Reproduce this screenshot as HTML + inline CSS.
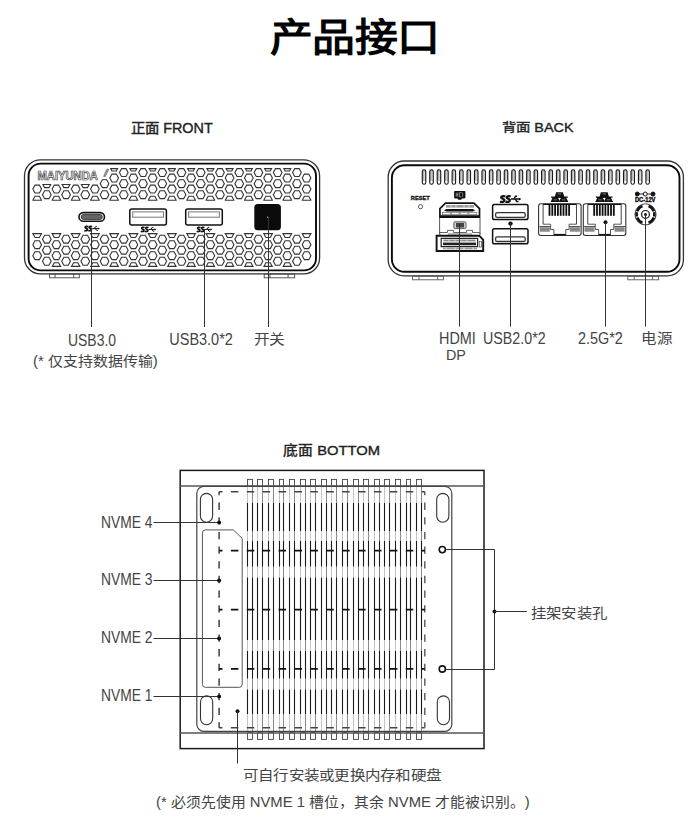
<!DOCTYPE html>
<html lang="zh-CN"><head><meta charset="utf-8"><style>
html,body{margin:0;padding:0;background:#fff;width:697px;height:820px;overflow:hidden;position:relative}
.t{text-spacing-trim:space-all;position:absolute;white-space:nowrap;font-family:"Liberation Sans",sans-serif;line-height:1;transform-origin:0 0}
.title{font-weight:400;-webkit-text-stroke:1.3px #000;color:#000}
.head{font-weight:400;-webkit-text-stroke:0.4px #222;color:#222}
.lab{color:#444}
</style></head><body>
<svg width="697" height="820" viewBox="0 0 697 820" style="position:absolute;left:0;top:0">
<rect x="24.50" y="159.80" width="295.10" height="114.10" rx="16" ry="16" fill="none" stroke="#333" stroke-width="1.3" />
<rect x="28.60" y="163.60" width="287.40" height="106.80" rx="12" ry="12" fill="none" stroke="#0a0a0a" stroke-width="1.9" />
<rect x="49.6" y="274.0" width="29.70" height="3.8" fill="none" stroke="#444" stroke-width="0.9"/>
<line x1="55.10" y1="274.00" x2="55.10" y2="277.80" stroke="#444" stroke-width="0.9" />
<line x1="73.70" y1="274.00" x2="73.70" y2="277.80" stroke="#444" stroke-width="0.9" />
<rect x="264.2" y="274.0" width="30.50" height="3.8" fill="none" stroke="#444" stroke-width="0.9"/>
<line x1="270.00" y1="274.00" x2="270.00" y2="277.80" stroke="#444" stroke-width="0.9" />
<line x1="288.10" y1="274.00" x2="288.10" y2="277.80" stroke="#444" stroke-width="0.9" />
<path d="M32.85,189.10 L35.00,185.15 L39.40,185.15 L41.55,189.10 L39.40,193.05 L35.00,193.05Z M32.85,200.15 L35.00,196.20 L39.40,196.20 L41.55,200.15 L41.52,200.20 L32.88,200.20Z M50.71,184.50 L49.02,187.60 L44.62,187.60 L42.93,184.50Z M42.47,194.70 L44.62,190.75 L49.02,190.75 L51.17,194.70 L49.02,198.65 L44.62,198.65Z M52.09,189.10 L54.24,185.15 L58.64,185.15 L60.79,189.10 L58.64,193.05 L54.24,193.05Z M52.09,200.15 L54.24,196.20 L58.64,196.20 L60.79,200.15 L60.76,200.20 L52.12,200.20Z M69.95,184.50 L68.26,187.60 L63.86,187.60 L62.17,184.50Z M61.71,194.70 L63.86,190.75 L68.26,190.75 L70.41,194.70 L68.26,198.65 L63.86,198.65Z M71.33,189.10 L73.48,185.15 L77.88,185.15 L80.03,189.10 L77.88,193.05 L73.48,193.05Z M71.33,200.15 L73.48,196.20 L77.88,196.20 L80.03,200.15 L80.00,200.20 L71.36,200.20Z M89.19,184.50 L87.50,187.60 L83.10,187.60 L81.41,184.50Z M80.95,194.70 L83.10,190.75 L87.50,190.75 L89.65,194.70 L87.50,198.65 L83.10,198.65Z M90.57,189.10 L92.72,185.15 L97.12,185.15 L99.27,189.10 L97.12,193.05 L92.72,193.05Z M90.57,200.15 L92.72,196.20 L97.12,196.20 L99.27,200.15 L99.24,200.20 L90.60,200.20Z M100.19,183.65 L102.34,179.70 L106.74,179.70 L108.89,183.65 L106.74,187.60 L102.34,187.60Z M100.19,194.70 L102.34,190.75 L106.74,190.75 L108.89,194.70 L106.74,198.65 L102.34,198.65Z M117.64,168.60 L116.36,170.95 L111.96,170.95 L110.68,168.60Z M109.81,178.05 L111.96,174.10 L116.36,174.10 L118.51,178.05 L116.36,182.00 L111.96,182.00Z M109.81,189.10 L111.96,185.15 L116.36,185.15 L118.51,189.10 L116.36,193.05 L111.96,193.05Z M109.81,200.15 L111.96,196.20 L116.36,196.20 L118.51,200.15 L118.48,200.20 L109.84,200.20Z M119.43,172.60 L121.58,168.65 L125.98,168.65 L128.13,172.60 L125.98,176.55 L121.58,176.55Z M119.43,183.65 L121.58,179.70 L125.98,179.70 L128.13,183.65 L125.98,187.60 L121.58,187.60Z M119.43,194.70 L121.58,190.75 L125.98,190.75 L128.13,194.70 L125.98,198.65 L121.58,198.65Z M136.88,168.60 L135.60,170.95 L131.20,170.95 L129.92,168.60Z M129.05,178.05 L131.20,174.10 L135.60,174.10 L137.75,178.05 L135.60,182.00 L131.20,182.00Z M129.05,189.10 L131.20,185.15 L135.60,185.15 L137.75,189.10 L135.60,193.05 L131.20,193.05Z M129.05,200.15 L131.20,196.20 L135.60,196.20 L137.75,200.15 L137.72,200.20 L129.08,200.20Z M138.67,172.60 L140.82,168.65 L145.22,168.65 L147.37,172.60 L145.22,176.55 L140.82,176.55Z M138.67,183.65 L140.82,179.70 L145.22,179.70 L147.37,183.65 L145.22,187.60 L140.82,187.60Z M138.67,194.70 L140.82,190.75 L145.22,190.75 L147.37,194.70 L145.22,198.65 L140.82,198.65Z M156.12,168.60 L154.84,170.95 L150.44,170.95 L149.16,168.60Z M148.29,178.05 L150.44,174.10 L154.84,174.10 L156.99,178.05 L154.84,182.00 L150.44,182.00Z M148.29,189.10 L150.44,185.15 L154.84,185.15 L156.99,189.10 L154.84,193.05 L150.44,193.05Z M148.29,200.15 L150.44,196.20 L154.84,196.20 L156.99,200.15 L156.96,200.20 L148.32,200.20Z M157.91,172.60 L160.06,168.65 L164.46,168.65 L166.61,172.60 L164.46,176.55 L160.06,176.55Z M157.91,183.65 L160.06,179.70 L164.46,179.70 L166.61,183.65 L164.46,187.60 L160.06,187.60Z M157.91,194.70 L160.06,190.75 L164.46,190.75 L166.61,194.70 L164.46,198.65 L160.06,198.65Z M175.36,168.60 L174.08,170.95 L169.68,170.95 L168.40,168.60Z M167.53,178.05 L169.68,174.10 L174.08,174.10 L176.23,178.05 L174.08,182.00 L169.68,182.00Z M167.53,189.10 L169.68,185.15 L174.08,185.15 L176.23,189.10 L174.08,193.05 L169.68,193.05Z M167.53,200.15 L169.68,196.20 L174.08,196.20 L176.23,200.15 L176.20,200.20 L167.56,200.20Z M177.15,172.60 L179.30,168.65 L183.70,168.65 L185.85,172.60 L183.70,176.55 L179.30,176.55Z M177.15,183.65 L179.30,179.70 L183.70,179.70 L185.85,183.65 L183.70,187.60 L179.30,187.60Z M177.15,194.70 L179.30,190.75 L183.70,190.75 L185.85,194.70 L183.70,198.65 L179.30,198.65Z M194.60,168.60 L193.32,170.95 L188.92,170.95 L187.64,168.60Z M186.77,178.05 L188.92,174.10 L193.32,174.10 L195.47,178.05 L193.32,182.00 L188.92,182.00Z M186.77,189.10 L188.92,185.15 L193.32,185.15 L195.47,189.10 L193.32,193.05 L188.92,193.05Z M186.77,200.15 L188.92,196.20 L193.32,196.20 L195.47,200.15 L195.44,200.20 L186.80,200.20Z M196.39,172.60 L198.54,168.65 L202.94,168.65 L205.09,172.60 L202.94,176.55 L198.54,176.55Z M196.39,183.65 L198.54,179.70 L202.94,179.70 L205.09,183.65 L202.94,187.60 L198.54,187.60Z M196.39,194.70 L198.54,190.75 L202.94,190.75 L205.09,194.70 L202.94,198.65 L198.54,198.65Z M213.84,168.60 L212.56,170.95 L208.16,170.95 L206.88,168.60Z M206.01,178.05 L208.16,174.10 L212.56,174.10 L214.71,178.05 L212.56,182.00 L208.16,182.00Z M206.01,189.10 L208.16,185.15 L212.56,185.15 L214.71,189.10 L212.56,193.05 L208.16,193.05Z M206.01,200.15 L208.16,196.20 L212.56,196.20 L214.71,200.15 L214.68,200.20 L206.04,200.20Z M215.63,172.60 L217.78,168.65 L222.18,168.65 L224.33,172.60 L222.18,176.55 L217.78,176.55Z M215.63,183.65 L217.78,179.70 L222.18,179.70 L224.33,183.65 L222.18,187.60 L217.78,187.60Z M215.63,194.70 L217.78,190.75 L222.18,190.75 L224.33,194.70 L222.18,198.65 L217.78,198.65Z M233.08,168.60 L231.80,170.95 L227.40,170.95 L226.12,168.60Z M225.25,178.05 L227.40,174.10 L231.80,174.10 L233.95,178.05 L231.80,182.00 L227.40,182.00Z M225.25,189.10 L227.40,185.15 L231.80,185.15 L233.95,189.10 L231.80,193.05 L227.40,193.05Z M225.25,200.15 L227.40,196.20 L231.80,196.20 L233.95,200.15 L233.92,200.20 L225.28,200.20Z M234.87,172.60 L237.02,168.65 L241.42,168.65 L243.57,172.60 L241.42,176.55 L237.02,176.55Z M234.87,183.65 L237.02,179.70 L241.42,179.70 L243.57,183.65 L241.42,187.60 L237.02,187.60Z M234.87,194.70 L237.02,190.75 L241.42,190.75 L243.57,194.70 L241.42,198.65 L237.02,198.65Z M252.32,168.60 L251.04,170.95 L246.64,170.95 L245.36,168.60Z M244.49,178.05 L246.64,174.10 L251.04,174.10 L253.19,178.05 L251.04,182.00 L246.64,182.00Z M244.49,189.10 L246.64,185.15 L251.04,185.15 L253.19,189.10 L251.04,193.05 L246.64,193.05Z M244.49,200.15 L246.64,196.20 L251.04,196.20 L253.19,200.15 L253.16,200.20 L244.52,200.20Z M254.11,172.60 L256.26,168.65 L260.66,168.65 L262.81,172.60 L260.66,176.55 L256.26,176.55Z M254.11,183.65 L256.26,179.70 L260.66,179.70 L262.81,183.65 L260.66,187.60 L256.26,187.60Z M254.11,194.70 L256.26,190.75 L260.66,190.75 L262.81,194.70 L260.66,198.65 L256.26,198.65Z M271.56,168.60 L270.28,170.95 L265.88,170.95 L264.60,168.60Z M263.73,178.05 L265.88,174.10 L270.28,174.10 L272.43,178.05 L270.28,182.00 L265.88,182.00Z M263.73,189.10 L265.88,185.15 L270.28,185.15 L272.43,189.10 L270.28,193.05 L265.88,193.05Z M263.73,200.15 L265.88,196.20 L270.28,196.20 L272.43,200.15 L272.40,200.20 L263.76,200.20Z M273.35,172.60 L275.50,168.65 L279.90,168.65 L282.05,172.60 L279.90,176.55 L275.50,176.55Z M273.35,183.65 L275.50,179.70 L279.90,179.70 L282.05,183.65 L279.90,187.60 L275.50,187.60Z M273.35,194.70 L275.50,190.75 L279.90,190.75 L282.05,194.70 L279.90,198.65 L275.50,198.65Z M290.80,168.60 L289.52,170.95 L285.12,170.95 L283.84,168.60Z M282.97,178.05 L285.12,174.10 L289.52,174.10 L291.67,178.05 L289.52,182.00 L285.12,182.00Z M282.97,189.10 L285.12,185.15 L289.52,185.15 L291.67,189.10 L289.52,193.05 L285.12,193.05Z M282.97,200.15 L285.12,196.20 L289.52,196.20 L291.67,200.15 L291.64,200.20 L283.00,200.20Z M292.59,172.60 L294.74,168.65 L299.14,168.65 L301.29,172.60 L299.14,176.55 L294.74,176.55Z M292.59,183.65 L294.74,179.70 L299.14,179.70 L301.29,183.65 L299.14,187.60 L294.74,187.60Z M292.59,194.70 L294.74,190.75 L299.14,190.75 L301.29,194.70 L299.14,198.65 L294.74,198.65Z M302.21,178.05 L304.36,174.10 L308.76,174.10 L310.91,178.05 L308.76,182.00 L304.36,182.00Z M302.21,189.10 L304.36,185.15 L308.76,185.15 L310.91,189.10 L308.76,193.05 L304.36,193.05Z M302.21,200.15 L304.36,196.20 L308.76,196.20 L310.91,200.15 L310.88,200.20 L302.24,200.20Z" fill="none" stroke="#333" stroke-width="1.1"/>
<path d="M32.85,233.60 L32.85,233.60 L41.55,233.60 L41.55,233.60 L39.40,237.55 L35.00,237.55Z M32.85,244.65 L35.00,240.70 L39.40,240.70 L41.55,244.65 L39.40,248.60 L35.00,248.60Z M32.85,255.70 L35.00,251.75 L39.40,251.75 L41.55,255.70 L39.40,259.65 L35.00,259.65Z M42.47,239.15 L44.62,235.20 L49.02,235.20 L51.17,239.15 L49.02,243.10 L44.62,243.10Z M42.47,250.20 L44.62,246.25 L49.02,246.25 L51.17,250.20 L49.02,254.15 L44.62,254.15Z M42.47,261.25 L44.62,257.30 L49.02,257.30 L51.17,261.25 L49.02,265.20 L44.62,265.20Z M52.09,233.60 L52.09,233.60 L60.79,233.60 L60.79,233.60 L58.64,237.55 L54.24,237.55Z M52.09,244.65 L54.24,240.70 L58.64,240.70 L60.79,244.65 L58.64,248.60 L54.24,248.60Z M52.09,255.70 L54.24,251.75 L58.64,251.75 L60.79,255.70 L58.64,259.65 L54.24,259.65Z M52.28,266.40 L54.24,262.80 L58.64,262.80 L60.60,266.40Z M61.71,239.15 L63.86,235.20 L68.26,235.20 L70.41,239.15 L68.26,243.10 L63.86,243.10Z M61.71,250.20 L63.86,246.25 L68.26,246.25 L70.41,250.20 L68.26,254.15 L63.86,254.15Z M61.71,261.25 L63.86,257.30 L68.26,257.30 L70.41,261.25 L68.26,265.20 L63.86,265.20Z M71.33,233.60 L71.33,233.60 L80.03,233.60 L80.03,233.60 L77.88,237.55 L73.48,237.55Z M71.33,244.65 L73.48,240.70 L77.88,240.70 L80.03,244.65 L77.88,248.60 L73.48,248.60Z M71.33,255.70 L73.48,251.75 L77.88,251.75 L80.03,255.70 L77.88,259.65 L73.48,259.65Z M71.52,266.40 L73.48,262.80 L77.88,262.80 L79.84,266.40Z M80.95,239.15 L83.10,235.20 L87.50,235.20 L89.65,239.15 L87.50,243.10 L83.10,243.10Z M80.95,250.20 L83.10,246.25 L87.50,246.25 L89.65,250.20 L87.50,254.15 L83.10,254.15Z M80.95,261.25 L83.10,257.30 L87.50,257.30 L89.65,261.25 L87.50,265.20 L83.10,265.20Z M90.57,233.60 L90.57,233.60 L99.27,233.60 L99.27,233.60 L97.12,237.55 L92.72,237.55Z M90.57,244.65 L92.72,240.70 L97.12,240.70 L99.27,244.65 L97.12,248.60 L92.72,248.60Z M90.57,255.70 L92.72,251.75 L97.12,251.75 L99.27,255.70 L97.12,259.65 L92.72,259.65Z M90.76,266.40 L92.72,262.80 L97.12,262.80 L99.08,266.40Z M100.19,239.15 L102.34,235.20 L106.74,235.20 L108.89,239.15 L106.74,243.10 L102.34,243.10Z M100.19,250.20 L102.34,246.25 L106.74,246.25 L108.89,250.20 L106.74,254.15 L102.34,254.15Z M100.19,261.25 L102.34,257.30 L106.74,257.30 L108.89,261.25 L106.74,265.20 L102.34,265.20Z M109.81,233.60 L109.81,233.60 L118.51,233.60 L118.51,233.60 L116.36,237.55 L111.96,237.55Z M109.81,244.65 L111.96,240.70 L116.36,240.70 L118.51,244.65 L116.36,248.60 L111.96,248.60Z M109.81,255.70 L111.96,251.75 L116.36,251.75 L118.51,255.70 L116.36,259.65 L111.96,259.65Z M110.00,266.40 L111.96,262.80 L116.36,262.80 L118.32,266.40Z M119.43,239.15 L121.58,235.20 L125.98,235.20 L128.13,239.15 L125.98,243.10 L121.58,243.10Z M119.43,250.20 L121.58,246.25 L125.98,246.25 L128.13,250.20 L125.98,254.15 L121.58,254.15Z M119.43,261.25 L121.58,257.30 L125.98,257.30 L128.13,261.25 L125.98,265.20 L121.58,265.20Z M129.05,233.60 L129.05,233.60 L137.75,233.60 L137.75,233.60 L135.60,237.55 L131.20,237.55Z M129.05,244.65 L131.20,240.70 L135.60,240.70 L137.75,244.65 L135.60,248.60 L131.20,248.60Z M129.05,255.70 L131.20,251.75 L135.60,251.75 L137.75,255.70 L135.60,259.65 L131.20,259.65Z M129.24,266.40 L131.20,262.80 L135.60,262.80 L137.56,266.40Z M138.67,239.15 L140.82,235.20 L145.22,235.20 L147.37,239.15 L145.22,243.10 L140.82,243.10Z M138.67,250.20 L140.82,246.25 L145.22,246.25 L147.37,250.20 L145.22,254.15 L140.82,254.15Z M138.67,261.25 L140.82,257.30 L145.22,257.30 L147.37,261.25 L145.22,265.20 L140.82,265.20Z M148.29,233.60 L148.29,233.60 L156.99,233.60 L156.99,233.60 L154.84,237.55 L150.44,237.55Z M148.29,244.65 L150.44,240.70 L154.84,240.70 L156.99,244.65 L154.84,248.60 L150.44,248.60Z M148.29,255.70 L150.44,251.75 L154.84,251.75 L156.99,255.70 L154.84,259.65 L150.44,259.65Z M148.48,266.40 L150.44,262.80 L154.84,262.80 L156.80,266.40Z M157.91,239.15 L160.06,235.20 L164.46,235.20 L166.61,239.15 L164.46,243.10 L160.06,243.10Z M157.91,250.20 L160.06,246.25 L164.46,246.25 L166.61,250.20 L164.46,254.15 L160.06,254.15Z M157.91,261.25 L160.06,257.30 L164.46,257.30 L166.61,261.25 L164.46,265.20 L160.06,265.20Z M167.53,233.60 L167.53,233.60 L176.23,233.60 L176.23,233.60 L174.08,237.55 L169.68,237.55Z M167.53,244.65 L169.68,240.70 L174.08,240.70 L176.23,244.65 L174.08,248.60 L169.68,248.60Z M167.53,255.70 L169.68,251.75 L174.08,251.75 L176.23,255.70 L174.08,259.65 L169.68,259.65Z M167.72,266.40 L169.68,262.80 L174.08,262.80 L176.04,266.40Z M177.15,239.15 L179.30,235.20 L183.70,235.20 L185.85,239.15 L183.70,243.10 L179.30,243.10Z M177.15,250.20 L179.30,246.25 L183.70,246.25 L185.85,250.20 L183.70,254.15 L179.30,254.15Z M177.15,261.25 L179.30,257.30 L183.70,257.30 L185.85,261.25 L183.70,265.20 L179.30,265.20Z M186.77,233.60 L186.77,233.60 L195.47,233.60 L195.47,233.60 L193.32,237.55 L188.92,237.55Z M186.77,244.65 L188.92,240.70 L193.32,240.70 L195.47,244.65 L193.32,248.60 L188.92,248.60Z M186.77,255.70 L188.92,251.75 L193.32,251.75 L195.47,255.70 L193.32,259.65 L188.92,259.65Z M186.96,266.40 L188.92,262.80 L193.32,262.80 L195.28,266.40Z M196.39,239.15 L198.54,235.20 L202.94,235.20 L205.09,239.15 L202.94,243.10 L198.54,243.10Z M196.39,250.20 L198.54,246.25 L202.94,246.25 L205.09,250.20 L202.94,254.15 L198.54,254.15Z M196.39,261.25 L198.54,257.30 L202.94,257.30 L205.09,261.25 L202.94,265.20 L198.54,265.20Z M206.01,233.60 L206.01,233.60 L214.71,233.60 L214.71,233.60 L212.56,237.55 L208.16,237.55Z M206.01,244.65 L208.16,240.70 L212.56,240.70 L214.71,244.65 L212.56,248.60 L208.16,248.60Z M206.01,255.70 L208.16,251.75 L212.56,251.75 L214.71,255.70 L212.56,259.65 L208.16,259.65Z M206.20,266.40 L208.16,262.80 L212.56,262.80 L214.52,266.40Z M215.63,239.15 L217.78,235.20 L222.18,235.20 L224.33,239.15 L222.18,243.10 L217.78,243.10Z M215.63,250.20 L217.78,246.25 L222.18,246.25 L224.33,250.20 L222.18,254.15 L217.78,254.15Z M215.63,261.25 L217.78,257.30 L222.18,257.30 L224.33,261.25 L222.18,265.20 L217.78,265.20Z M225.25,233.60 L225.25,233.60 L233.95,233.60 L233.95,233.60 L231.80,237.55 L227.40,237.55Z M225.25,244.65 L227.40,240.70 L231.80,240.70 L233.95,244.65 L231.80,248.60 L227.40,248.60Z M225.25,255.70 L227.40,251.75 L231.80,251.75 L233.95,255.70 L231.80,259.65 L227.40,259.65Z M225.44,266.40 L227.40,262.80 L231.80,262.80 L233.76,266.40Z M234.87,239.15 L237.02,235.20 L241.42,235.20 L243.57,239.15 L241.42,243.10 L237.02,243.10Z M234.87,250.20 L237.02,246.25 L241.42,246.25 L243.57,250.20 L241.42,254.15 L237.02,254.15Z M234.87,261.25 L237.02,257.30 L241.42,257.30 L243.57,261.25 L241.42,265.20 L237.02,265.20Z M244.49,233.60 L244.49,233.60 L253.19,233.60 L253.19,233.60 L251.04,237.55 L246.64,237.55Z M244.49,244.65 L246.64,240.70 L251.04,240.70 L253.19,244.65 L251.04,248.60 L246.64,248.60Z M244.49,255.70 L246.64,251.75 L251.04,251.75 L253.19,255.70 L251.04,259.65 L246.64,259.65Z M244.68,266.40 L246.64,262.80 L251.04,262.80 L253.00,266.40Z M254.11,239.15 L256.26,235.20 L260.66,235.20 L262.81,239.15 L260.66,243.10 L256.26,243.10Z M254.11,250.20 L256.26,246.25 L260.66,246.25 L262.81,250.20 L260.66,254.15 L256.26,254.15Z M254.11,261.25 L256.26,257.30 L260.66,257.30 L262.81,261.25 L260.66,265.20 L256.26,265.20Z M263.73,233.60 L263.73,233.60 L272.43,233.60 L272.43,233.60 L270.28,237.55 L265.88,237.55Z M263.73,244.65 L265.88,240.70 L270.28,240.70 L272.43,244.65 L270.28,248.60 L265.88,248.60Z M263.73,255.70 L265.88,251.75 L270.28,251.75 L272.43,255.70 L270.28,259.65 L265.88,259.65Z M263.92,266.40 L265.88,262.80 L270.28,262.80 L272.24,266.40Z M273.35,239.15 L275.50,235.20 L279.90,235.20 L282.05,239.15 L279.90,243.10 L275.50,243.10Z M273.35,250.20 L275.50,246.25 L279.90,246.25 L282.05,250.20 L279.90,254.15 L275.50,254.15Z M273.35,261.25 L275.50,257.30 L279.90,257.30 L282.05,261.25 L279.90,265.20 L275.50,265.20Z M282.97,233.60 L282.97,233.60 L291.67,233.60 L291.67,233.60 L289.52,237.55 L285.12,237.55Z M282.97,244.65 L285.12,240.70 L289.52,240.70 L291.67,244.65 L289.52,248.60 L285.12,248.60Z M282.97,255.70 L285.12,251.75 L289.52,251.75 L291.67,255.70 L289.52,259.65 L285.12,259.65Z M283.16,266.40 L285.12,262.80 L289.52,262.80 L291.48,266.40Z M292.59,239.15 L294.74,235.20 L299.14,235.20 L301.29,239.15 L299.14,243.10 L294.74,243.10Z M292.59,250.20 L294.74,246.25 L299.14,246.25 L301.29,250.20 L299.14,254.15 L294.74,254.15Z M292.59,261.25 L294.74,257.30 L299.14,257.30 L301.29,261.25 L299.14,265.20 L294.74,265.20Z M302.21,233.60 L302.21,233.60 L310.91,233.60 L310.91,233.60 L308.76,237.55 L304.36,237.55Z M302.21,244.65 L304.36,240.70 L308.76,240.70 L310.91,244.65 L308.76,248.60 L304.36,248.60Z M302.21,255.70 L304.36,251.75 L308.76,251.75 L310.91,255.70 L308.76,259.65 L304.36,259.65Z" fill="none" stroke="#333" stroke-width="1.1"/>
<text x="37.5" y="179.7" textLength="60.4" lengthAdjust="spacingAndGlyphs" font-family="Liberation Sans" font-weight="bold" font-size="12.4" fill="#fff" stroke="#333" stroke-width="0.7">MAIYUNDA</text>
<path d="M103.6,176.4 L105.4,176.4 L108.7,169.2 L106.9,169.2Z" fill="#aaa" stroke="#444" stroke-width="0.6"/>
<rect x="79.00" y="212.60" width="25.50" height="8.70" rx="4.35" ry="4.35" fill="none" stroke="#111" stroke-width="1.6" />
<rect x="81.20" y="214.60" width="21.20" height="4.80" rx="2.4" ry="2.4" fill="#666" stroke="#333" stroke-width="0.9" />
<g transform="translate(83.80,225.80) scale(1.000)"><path d="M0.5,4.6 C1.5,5.2 4,5 3.6,3.4 C3.3,2.5 1.2,2.6 1.3,1.6 C1.4,0.4 3.6,0.5 4.2,1 M4.5,4.6 C5.5,5.2 8,5 7.6,3.4 C7.3,2.5 5.2,2.6 5.3,1.6 C5.4,0.4 7.6,0.5 8.2,1" fill="none" stroke="#111" stroke-width="1.7"/><path d="M8.5,2.8 L15.5,2.8 M10.5,2.8 L11.8,0.8 L13,0.8 M11.5,2.8 L12.8,4.6 L14,4.6" fill="none" stroke="#111" stroke-width="1"/><path d="M15.8,2.8 L14.3,1.8 L14.3,3.8Z" fill="#111"/></g>
<rect x="129.80" y="209.10" width="36.60" height="15.80" rx="2.0" ry="2.0" fill="none" stroke="#111" stroke-width="1.5" />
<rect x="132.70" y="211.9" width="30.8" height="5.3" fill="none" stroke="#777" stroke-width="1"/>
<g transform="translate(140.30,226.60) scale(1.000)"><path d="M0.5,4.6 C1.5,5.2 4,5 3.6,3.4 C3.3,2.5 1.2,2.6 1.3,1.6 C1.4,0.4 3.6,0.5 4.2,1 M4.5,4.6 C5.5,5.2 8,5 7.6,3.4 C7.3,2.5 5.2,2.6 5.3,1.6 C5.4,0.4 7.6,0.5 8.2,1" fill="none" stroke="#111" stroke-width="1.7"/><path d="M8.5,2.8 L15.5,2.8 M10.5,2.8 L11.8,0.8 L13,0.8 M11.5,2.8 L12.8,4.6 L14,4.6" fill="none" stroke="#111" stroke-width="1"/><path d="M15.8,2.8 L14.3,1.8 L14.3,3.8Z" fill="#111"/></g>
<rect x="185.70" y="209.10" width="36.60" height="15.80" rx="2.0" ry="2.0" fill="none" stroke="#111" stroke-width="1.5" />
<rect x="188.60" y="211.9" width="30.8" height="5.3" fill="none" stroke="#777" stroke-width="1"/>
<g transform="translate(196.20,226.60) scale(1.000)"><path d="M0.5,4.6 C1.5,5.2 4,5 3.6,3.4 C3.3,2.5 1.2,2.6 1.3,1.6 C1.4,0.4 3.6,0.5 4.2,1 M4.5,4.6 C5.5,5.2 8,5 7.6,3.4 C7.3,2.5 5.2,2.6 5.3,1.6 C5.4,0.4 7.6,0.5 8.2,1" fill="none" stroke="#111" stroke-width="1.7"/><path d="M8.5,2.8 L15.5,2.8 M10.5,2.8 L11.8,0.8 L13,0.8 M11.5,2.8 L12.8,4.6 L14,4.6" fill="none" stroke="#111" stroke-width="1"/><path d="M15.8,2.8 L14.3,1.8 L14.3,3.8Z" fill="#111"/></g>
<rect x="254.30" y="204.00" width="26.60" height="26.30" rx="3.6" ry="3.6" fill="#0a0a0a" stroke="none" stroke-width="0" />
<circle cx="267.60" cy="217.20" r="0.6" fill="#ddd" stroke="none" stroke-width="1"/>
<line x1="91.50" y1="228.50" x2="91.50" y2="327.00" stroke="#333" stroke-width="1" />
<line x1="204.50" y1="229.00" x2="204.50" y2="327.00" stroke="#333" stroke-width="1" />
<line x1="268.50" y1="217.20" x2="268.50" y2="327.00" stroke="#333" stroke-width="1" />
<rect x="388.20" y="161.00" width="295.20" height="114.80" rx="16" ry="16" fill="none" stroke="#333" stroke-width="1.3" />
<rect x="391.90" y="165.20" width="287.60" height="106.60" rx="12.5" ry="12.5" fill="none" stroke="#0a0a0a" stroke-width="1.9" />
<rect x="412.6" y="276.2" width="30.799999999999955" height="3.6" fill="none" stroke="#555" stroke-width="0.9"/>
<line x1="419.00" y1="276.20" x2="419.00" y2="279.80" stroke="#555" stroke-width="0.9" />
<line x1="437.70" y1="276.20" x2="437.70" y2="279.80" stroke="#555" stroke-width="0.9" />
<rect x="627.8" y="276.2" width="30.800000000000068" height="3.6" fill="none" stroke="#555" stroke-width="0.9"/>
<line x1="634.20" y1="276.20" x2="634.20" y2="279.80" stroke="#555" stroke-width="0.9" />
<line x1="652.60" y1="276.20" x2="652.60" y2="279.80" stroke="#555" stroke-width="0.9" />
<rect x="422.30" y="169.80" width="3.50" height="14.40" rx="1.75" ry="1.75" fill="#b5b5b5" stroke="#1a1a1a" stroke-width="1.1" />
<rect x="424.15" y="171.5" width="0.8" height="8.5" fill="#e0e0e0"/>
<rect x="423.05" y="180.6" width="2.0" height="2.9" rx="1.0" fill="#fff"/>
<rect x="429.75" y="169.80" width="3.50" height="14.40" rx="1.75" ry="1.75" fill="#b5b5b5" stroke="#1a1a1a" stroke-width="1.1" />
<rect x="431.60" y="171.5" width="0.8" height="8.5" fill="#e0e0e0"/>
<rect x="430.50" y="180.6" width="2.0" height="2.9" rx="1.0" fill="#fff"/>
<rect x="437.21" y="169.80" width="3.50" height="14.40" rx="1.75" ry="1.75" fill="#b5b5b5" stroke="#1a1a1a" stroke-width="1.1" />
<rect x="439.06" y="171.5" width="0.8" height="8.5" fill="#e0e0e0"/>
<rect x="437.96" y="180.6" width="2.0" height="2.9" rx="1.0" fill="#fff"/>
<rect x="444.66" y="169.80" width="3.50" height="14.40" rx="1.75" ry="1.75" fill="#b5b5b5" stroke="#1a1a1a" stroke-width="1.1" />
<rect x="446.51" y="171.5" width="0.8" height="8.5" fill="#e0e0e0"/>
<rect x="445.41" y="180.6" width="2.0" height="2.9" rx="1.0" fill="#fff"/>
<rect x="452.11" y="169.80" width="3.50" height="14.40" rx="1.75" ry="1.75" fill="#b5b5b5" stroke="#1a1a1a" stroke-width="1.1" />
<rect x="453.96" y="171.5" width="0.8" height="8.5" fill="#e0e0e0"/>
<rect x="452.86" y="180.6" width="2.0" height="2.9" rx="1.0" fill="#fff"/>
<rect x="459.56" y="169.80" width="3.50" height="14.40" rx="1.75" ry="1.75" fill="#b5b5b5" stroke="#1a1a1a" stroke-width="1.1" />
<rect x="461.42" y="171.5" width="0.8" height="8.5" fill="#e0e0e0"/>
<rect x="460.31" y="180.6" width="2.0" height="2.9" rx="1.0" fill="#fff"/>
<rect x="467.02" y="169.80" width="3.50" height="14.40" rx="1.75" ry="1.75" fill="#b5b5b5" stroke="#1a1a1a" stroke-width="1.1" />
<rect x="468.87" y="171.5" width="0.8" height="8.5" fill="#e0e0e0"/>
<rect x="467.77" y="180.6" width="2.0" height="2.9" rx="1.0" fill="#fff"/>
<rect x="474.47" y="169.80" width="3.50" height="14.40" rx="1.75" ry="1.75" fill="#b5b5b5" stroke="#1a1a1a" stroke-width="1.1" />
<rect x="476.32" y="171.5" width="0.8" height="8.5" fill="#e0e0e0"/>
<rect x="475.22" y="180.6" width="2.0" height="2.9" rx="1.0" fill="#fff"/>
<rect x="481.92" y="169.80" width="3.50" height="14.40" rx="1.75" ry="1.75" fill="#b5b5b5" stroke="#1a1a1a" stroke-width="1.1" />
<rect x="483.77" y="171.5" width="0.8" height="8.5" fill="#e0e0e0"/>
<rect x="482.67" y="180.6" width="2.0" height="2.9" rx="1.0" fill="#fff"/>
<rect x="489.38" y="169.80" width="3.50" height="14.40" rx="1.75" ry="1.75" fill="#b5b5b5" stroke="#1a1a1a" stroke-width="1.1" />
<rect x="491.23" y="171.5" width="0.8" height="8.5" fill="#e0e0e0"/>
<rect x="490.13" y="180.6" width="2.0" height="2.9" rx="1.0" fill="#fff"/>
<rect x="496.83" y="169.80" width="3.50" height="14.40" rx="1.75" ry="1.75" fill="#b5b5b5" stroke="#1a1a1a" stroke-width="1.1" />
<rect x="498.68" y="171.5" width="0.8" height="8.5" fill="#e0e0e0"/>
<rect x="497.58" y="180.6" width="2.0" height="2.9" rx="1.0" fill="#fff"/>
<rect x="504.28" y="169.80" width="3.50" height="14.40" rx="1.75" ry="1.75" fill="#b5b5b5" stroke="#1a1a1a" stroke-width="1.1" />
<rect x="506.13" y="171.5" width="0.8" height="8.5" fill="#e0e0e0"/>
<rect x="505.03" y="180.6" width="2.0" height="2.9" rx="1.0" fill="#fff"/>
<rect x="511.74" y="169.80" width="3.50" height="14.40" rx="1.75" ry="1.75" fill="#b5b5b5" stroke="#1a1a1a" stroke-width="1.1" />
<rect x="513.59" y="171.5" width="0.8" height="8.5" fill="#e0e0e0"/>
<rect x="512.49" y="180.6" width="2.0" height="2.9" rx="1.0" fill="#fff"/>
<rect x="519.19" y="169.80" width="3.50" height="14.40" rx="1.75" ry="1.75" fill="#b5b5b5" stroke="#1a1a1a" stroke-width="1.1" />
<rect x="521.04" y="171.5" width="0.8" height="8.5" fill="#e0e0e0"/>
<rect x="519.94" y="180.6" width="2.0" height="2.9" rx="1.0" fill="#fff"/>
<rect x="526.64" y="169.80" width="3.50" height="14.40" rx="1.75" ry="1.75" fill="#b5b5b5" stroke="#1a1a1a" stroke-width="1.1" />
<rect x="528.49" y="171.5" width="0.8" height="8.5" fill="#e0e0e0"/>
<rect x="527.39" y="180.6" width="2.0" height="2.9" rx="1.0" fill="#fff"/>
<rect x="534.10" y="169.80" width="3.50" height="14.40" rx="1.75" ry="1.75" fill="#b5b5b5" stroke="#1a1a1a" stroke-width="1.1" />
<rect x="535.95" y="171.5" width="0.8" height="8.5" fill="#e0e0e0"/>
<rect x="534.85" y="180.6" width="2.0" height="2.9" rx="1.0" fill="#fff"/>
<rect x="541.55" y="169.80" width="3.50" height="14.40" rx="1.75" ry="1.75" fill="#b5b5b5" stroke="#1a1a1a" stroke-width="1.1" />
<rect x="543.40" y="171.5" width="0.8" height="8.5" fill="#e0e0e0"/>
<rect x="542.30" y="180.6" width="2.0" height="2.9" rx="1.0" fill="#fff"/>
<rect x="549.00" y="169.80" width="3.50" height="14.40" rx="1.75" ry="1.75" fill="#b5b5b5" stroke="#1a1a1a" stroke-width="1.1" />
<rect x="550.85" y="171.5" width="0.8" height="8.5" fill="#e0e0e0"/>
<rect x="549.75" y="180.6" width="2.0" height="2.9" rx="1.0" fill="#fff"/>
<rect x="556.45" y="169.80" width="3.50" height="14.40" rx="1.75" ry="1.75" fill="#b5b5b5" stroke="#1a1a1a" stroke-width="1.1" />
<rect x="558.30" y="171.5" width="0.8" height="8.5" fill="#e0e0e0"/>
<rect x="557.20" y="180.6" width="2.0" height="2.9" rx="1.0" fill="#fff"/>
<rect x="563.91" y="169.80" width="3.50" height="14.40" rx="1.75" ry="1.75" fill="#b5b5b5" stroke="#1a1a1a" stroke-width="1.1" />
<rect x="565.76" y="171.5" width="0.8" height="8.5" fill="#e0e0e0"/>
<rect x="564.66" y="180.6" width="2.0" height="2.9" rx="1.0" fill="#fff"/>
<rect x="571.36" y="169.80" width="3.50" height="14.40" rx="1.75" ry="1.75" fill="#b5b5b5" stroke="#1a1a1a" stroke-width="1.1" />
<rect x="573.21" y="171.5" width="0.8" height="8.5" fill="#e0e0e0"/>
<rect x="572.11" y="180.6" width="2.0" height="2.9" rx="1.0" fill="#fff"/>
<rect x="578.81" y="169.80" width="3.50" height="14.40" rx="1.75" ry="1.75" fill="#b5b5b5" stroke="#1a1a1a" stroke-width="1.1" />
<rect x="580.66" y="171.5" width="0.8" height="8.5" fill="#e0e0e0"/>
<rect x="579.56" y="180.6" width="2.0" height="2.9" rx="1.0" fill="#fff"/>
<rect x="586.27" y="169.80" width="3.50" height="14.40" rx="1.75" ry="1.75" fill="#b5b5b5" stroke="#1a1a1a" stroke-width="1.1" />
<rect x="588.12" y="171.5" width="0.8" height="8.5" fill="#e0e0e0"/>
<rect x="587.02" y="180.6" width="2.0" height="2.9" rx="1.0" fill="#fff"/>
<rect x="593.72" y="169.80" width="3.50" height="14.40" rx="1.75" ry="1.75" fill="#b5b5b5" stroke="#1a1a1a" stroke-width="1.1" />
<rect x="595.57" y="171.5" width="0.8" height="8.5" fill="#e0e0e0"/>
<rect x="594.47" y="180.6" width="2.0" height="2.9" rx="1.0" fill="#fff"/>
<rect x="601.17" y="169.80" width="3.50" height="14.40" rx="1.75" ry="1.75" fill="#b5b5b5" stroke="#1a1a1a" stroke-width="1.1" />
<rect x="603.02" y="171.5" width="0.8" height="8.5" fill="#e0e0e0"/>
<rect x="601.92" y="180.6" width="2.0" height="2.9" rx="1.0" fill="#fff"/>
<rect x="608.62" y="169.80" width="3.50" height="14.40" rx="1.75" ry="1.75" fill="#b5b5b5" stroke="#1a1a1a" stroke-width="1.1" />
<rect x="610.48" y="171.5" width="0.8" height="8.5" fill="#e0e0e0"/>
<rect x="609.38" y="180.6" width="2.0" height="2.9" rx="1.0" fill="#fff"/>
<rect x="616.08" y="169.80" width="3.50" height="14.40" rx="1.75" ry="1.75" fill="#b5b5b5" stroke="#1a1a1a" stroke-width="1.1" />
<rect x="617.93" y="171.5" width="0.8" height="8.5" fill="#e0e0e0"/>
<rect x="616.83" y="180.6" width="2.0" height="2.9" rx="1.0" fill="#fff"/>
<rect x="623.53" y="169.80" width="3.50" height="14.40" rx="1.75" ry="1.75" fill="#b5b5b5" stroke="#1a1a1a" stroke-width="1.1" />
<rect x="625.38" y="171.5" width="0.8" height="8.5" fill="#e0e0e0"/>
<rect x="624.28" y="180.6" width="2.0" height="2.9" rx="1.0" fill="#fff"/>
<rect x="630.98" y="169.80" width="3.50" height="14.40" rx="1.75" ry="1.75" fill="#b5b5b5" stroke="#1a1a1a" stroke-width="1.1" />
<rect x="632.83" y="171.5" width="0.8" height="8.5" fill="#e0e0e0"/>
<rect x="631.73" y="180.6" width="2.0" height="2.9" rx="1.0" fill="#fff"/>
<rect x="638.44" y="169.80" width="3.50" height="14.40" rx="1.75" ry="1.75" fill="#b5b5b5" stroke="#1a1a1a" stroke-width="1.1" />
<rect x="640.29" y="171.5" width="0.8" height="8.5" fill="#e0e0e0"/>
<rect x="639.19" y="180.6" width="2.0" height="2.9" rx="1.0" fill="#fff"/>
<rect x="645.89" y="169.80" width="3.50" height="14.40" rx="1.75" ry="1.75" fill="#b5b5b5" stroke="#1a1a1a" stroke-width="1.1" />
<rect x="647.74" y="171.5" width="0.8" height="8.5" fill="#e0e0e0"/>
<rect x="646.64" y="180.6" width="2.0" height="2.9" rx="1.0" fill="#fff"/>
<text x="420.3" y="199.8" text-anchor="middle" textLength="18.9" lengthAdjust="spacingAndGlyphs" font-family="Liberation Sans" font-weight="bold" font-size="6.2" fill="#111" stroke="#111" stroke-width="0.35">RESET</text>
<circle cx="420.50" cy="206.70" r="2.1" fill="none" stroke="#444" stroke-width="0.9"/>
<path d="M455,191 L464.5,191 Q465.4,191 465.4,192 L465.4,197.6 Q465.4,198.4 464.5,198.4 L462,198.4 L461.2,199.8 L458.3,199.8 L457.5,198.4 L455,198.4 Q454.1,198.4 454.1,197.6 L454.1,192 Q454.1,191 455,191Z" fill="#111"/>
<path d="M456.2,192.6 L456.2,196.8 M457.8,192.6 L457.8,196.8 M459.4,192.6 L459.4,196.8 L461.2,196.8 M462.6,192.6 L462.6,196.8 M456.2,194.6 L457.8,194.6 M459.4,192.6 L461.5,192.6" fill="none" stroke="#ccc" stroke-width="0.6"/>
<path d="M445.5,203.2 L473.9,203.2 L479.5,208.6 L479.5,217.2 L439.9,217.2 L439.9,208.6 Z" fill="#fff" stroke="#111" stroke-width="1.7"/>
<rect x="440" y="215.2" width="39.5" height="2.6" fill="#111"/>
<rect x="446" y="205" width="28.2" height="2.6" fill="#9a9a9a"/>
<path d="M451,205 L451,207.6 M456,205 L456,207.6 M464,205 L464,207.6 M469,205 L469,207.6" stroke="#fff" stroke-width="0.6"/>
<path d="M443.9,210.2 L446.5,209 L472.7,209 L475.3,210.2 L472.7,211.4 L446.5,211.4 Z" fill="#111"/>
<rect x="442.30" y="212.3" width="8" height="2.4" fill="#fff" stroke="#666" stroke-width="0.7"/>
<rect x="451.15" y="212.3" width="8" height="2.4" fill="#fff" stroke="#666" stroke-width="0.7"/>
<rect x="460.00" y="212.3" width="8" height="2.4" fill="#fff" stroke="#666" stroke-width="0.7"/>
<rect x="468.85" y="212.3" width="8" height="2.4" fill="#fff" stroke="#666" stroke-width="0.7"/>
<line x1="439.60" y1="217.80" x2="439.60" y2="234.50" stroke="#444" stroke-width="0.9" />
<line x1="480.00" y1="217.80" x2="480.00" y2="234.50" stroke="#444" stroke-width="0.9" />
<rect x="453.80" y="221.80" width="12.20" height="6.80" rx="1.2" ry="1.2" fill="#ccc" stroke="#555" stroke-width="0.9" />
<rect x="456" y="223" width="8" height="4.5" fill="#444"/>
<path d="M439.8,234.8 L439.8,232.5 L447.5,232.5 L447.5,230.4 L453.5,230.4 L453.5,232.5 L466.5,232.5 L466.5,230.4 L472.5,230.4 L472.5,232.5 L480,232.5 L480,234.8" fill="none" stroke="#555" stroke-width="0.9"/>
<rect x="448" y="233" width="24" height="2.3" fill="#bbb"/>
<path d="M436.6,235.7 L479.2,235.7 L483.2,239.8 L483.2,251.0 L436.6,251.0 Z" fill="#fff" stroke="#111" stroke-width="1.9"/>
<path d="M441.2,238.4 L477.6,238.4 L477.6,246.6 L441.2,246.6Z" fill="#fff" stroke="#222" stroke-width="1.2"/>
<rect x="443.5" y="239.6" width="32" height="1.8" fill="#8a8a8a"/>
<path d="M449,239.6 L449,241.4 M455,239.6 L455,241.4 M461,239.6 L461,241.4 M467,239.6 L467,241.4" stroke="#fff" stroke-width="0.6"/>
<rect x="443" y="242.6" width="33" height="2.6" fill="#222"/>
<rect x="443" y="247.6" width="34" height="1.8" fill="#9a9a9a"/>
<path d="M446,247.6 L446,249.4 M455,247.6 L455,249.4 M464,247.6 L464,249.4 M473,247.6 L473,249.4" stroke="#fff" stroke-width="0.8"/>
<rect x="479.2" y="241.5" width="2.4" height="5.5" fill="#fff" stroke="#444" stroke-width="0.7"/>
<g transform="translate(499.40,195.20) scale(1.363)"><path d="M0.5,4.6 C1.5,5.2 4,5 3.6,3.4 C3.3,2.5 1.2,2.6 1.3,1.6 C1.4,0.4 3.6,0.5 4.2,1 M4.5,4.6 C5.5,5.2 8,5 7.6,3.4 C7.3,2.5 5.2,2.6 5.3,1.6 C5.4,0.4 7.6,0.5 8.2,1" fill="none" stroke="#111" stroke-width="1.7"/><path d="M8.5,2.8 L15.5,2.8 M10.5,2.8 L11.8,0.8 L13,0.8 M11.5,2.8 L12.8,4.6 L14,4.6" fill="none" stroke="#111" stroke-width="1"/><path d="M15.8,2.8 L14.3,1.8 L14.3,3.8Z" fill="#111"/></g>
<rect x="492.60" y="204.60" width="35.40" height="15.00" rx="1.8" ry="1.8" fill="none" stroke="#111" stroke-width="1.5" />
<rect x="495.6" y="212.70" width="29.6" height="4.6" rx="1.6" fill="#fff" stroke="#333" stroke-width="1.3"/>
<rect x="492.60" y="228.80" width="35.40" height="15.00" rx="1.8" ry="1.8" fill="none" stroke="#111" stroke-width="1.5" />
<rect x="495.6" y="236.90" width="29.6" height="4.6" rx="1.6" fill="#fff" stroke="#333" stroke-width="1.3"/>
<circle cx="510.50" cy="223.60" r="2.2" fill="#111" stroke="none" stroke-width="1"/>
<g transform="translate(538.60,0)">
<rect x="0.00" y="203.80" width="42.50" height="31.70" rx="2.2" ry="2.2" fill="none" stroke="#333" stroke-width="1.1" />
<line x1="4.40" y1="204.30" x2="38.00" y2="204.30" stroke="#111" stroke-width="1.3" />
<line x1="4.50" y1="204.30" x2="4.50" y2="224.20" stroke="#444" stroke-width="1" />
<line x1="37.90" y1="204.30" x2="37.90" y2="224.20" stroke="#444" stroke-width="1" />
<rect x="10.00" y="205" width="1.8" height="10.8" fill="#111"/>
<rect x="12.80" y="205" width="1.8" height="10.8" fill="#111"/>
<rect x="15.60" y="205" width="1.8" height="10.8" fill="#111"/>
<rect x="18.40" y="205" width="1.8" height="10.8" fill="#111"/>
<rect x="21.20" y="205" width="1.8" height="10.8" fill="#111"/>
<rect x="24.00" y="205" width="1.8" height="10.8" fill="#111"/>
<rect x="26.80" y="205" width="1.8" height="10.8" fill="#111"/>
<rect x="29.60" y="205" width="1.8" height="10.8" fill="#111"/>
<path d="M0.7,226.5 L12,226.5 L12,229.5 L15.3,229.5 L15.3,234.7 M4.5,224.2 L12,224.2 L12,226.5 M42,226.5 L30.5,226.5 L30.5,229.5 L27.2,229.5 L27.2,234.7 M37.9,224.2 L30.5,224.2 L30.5,226.5" fill="none" stroke="#444" stroke-width="0.9"/>
<rect x="1.2" y="227.2" width="10" height="4.5" fill="#888"/>
<rect x="31.3" y="227.2" width="10" height="4.5" fill="#888"/>
<line x1="15.30" y1="234.60" x2="27.20" y2="234.60" stroke="#111" stroke-width="1.4" />
<path d="M17.6,192.2 L24.3,192.2 L25.6,196.4 L29.2,196.4 L29.2,197.8 L27.6,197.8 L29.8,202.1 L21.0,202.1 L21.4,197.8 L20.6,197.8 L21.0,202.1 L12.0,202.1 L13.9,197.8 L12.5,197.8 L12.5,196.4 L16.3,196.4 Z" fill="#111"/>
<path d="M19.4,197.9 L22.4,197.9 L20.9,200.3Z" fill="#fff"/>
<rect x="19.2" y="193.4" width="3.4" height="1" fill="#777"/>
<rect x="15" y="199.4" width="3.4" height="0.9" fill="#777"/><rect x="23.4" y="199.4" width="3.4" height="0.9" fill="#777"/>
</g>
<g transform="translate(583.30,0)">
<rect x="0.00" y="203.80" width="42.50" height="31.70" rx="2.2" ry="2.2" fill="none" stroke="#333" stroke-width="1.1" />
<line x1="4.40" y1="204.30" x2="38.00" y2="204.30" stroke="#111" stroke-width="1.3" />
<line x1="4.50" y1="204.30" x2="4.50" y2="224.20" stroke="#444" stroke-width="1" />
<line x1="37.90" y1="204.30" x2="37.90" y2="224.20" stroke="#444" stroke-width="1" />
<rect x="10.00" y="205" width="1.8" height="10.8" fill="#111"/>
<rect x="12.80" y="205" width="1.8" height="10.8" fill="#111"/>
<rect x="15.60" y="205" width="1.8" height="10.8" fill="#111"/>
<rect x="18.40" y="205" width="1.8" height="10.8" fill="#111"/>
<rect x="21.20" y="205" width="1.8" height="10.8" fill="#111"/>
<rect x="24.00" y="205" width="1.8" height="10.8" fill="#111"/>
<rect x="26.80" y="205" width="1.8" height="10.8" fill="#111"/>
<rect x="29.60" y="205" width="1.8" height="10.8" fill="#111"/>
<path d="M0.7,226.5 L12,226.5 L12,229.5 L15.3,229.5 L15.3,234.7 M4.5,224.2 L12,224.2 L12,226.5 M42,226.5 L30.5,226.5 L30.5,229.5 L27.2,229.5 L27.2,234.7 M37.9,224.2 L30.5,224.2 L30.5,226.5" fill="none" stroke="#444" stroke-width="0.9"/>
<rect x="1.2" y="227.2" width="10" height="4.5" fill="#888"/>
<rect x="31.3" y="227.2" width="10" height="4.5" fill="#888"/>
<line x1="15.30" y1="234.60" x2="27.20" y2="234.60" stroke="#111" stroke-width="1.4" />
<path d="M17.6,192.2 L24.3,192.2 L25.6,196.4 L29.2,196.4 L29.2,197.8 L27.6,197.8 L29.8,202.1 L21.0,202.1 L21.4,197.8 L20.6,197.8 L21.0,202.1 L12.0,202.1 L13.9,197.8 L12.5,197.8 L12.5,196.4 L16.3,196.4 Z" fill="#111"/>
<path d="M19.4,197.9 L22.4,197.9 L20.9,200.3Z" fill="#fff"/>
<rect x="19.2" y="193.4" width="3.4" height="1" fill="#777"/>
<rect x="15" y="199.4" width="3.4" height="0.9" fill="#777"/><rect x="23.4" y="199.4" width="3.4" height="0.9" fill="#777"/>
</g>
<circle cx="605.50" cy="222.20" r="2.0" fill="#111" stroke="none" stroke-width="1"/>
<circle cx="637.30" cy="194.00" r="2.0" fill="#111" stroke="#111" stroke-width="1.0"/>
<circle cx="645.20" cy="194.00" r="2.0" fill="#fff" stroke="#111" stroke-width="1.0"/>
<circle cx="653.00" cy="194.00" r="2.0" fill="#111" stroke="#111" stroke-width="1.0"/>
<line x1="639.30" y1="194.00" x2="643.20" y2="194.00" stroke="#111" stroke-width="0.9" />
<line x1="647.20" y1="194.00" x2="651.00" y2="194.00" stroke="#111" stroke-width="0.9" />
<text x="645.2" y="202.3" text-anchor="middle" textLength="20.5" lengthAdjust="spacingAndGlyphs" font-family="Liberation Sans" font-weight="bold" font-size="6.4" fill="#111" stroke="#111" stroke-width="0.4">DC-12V</text>
<circle cx="645.50" cy="214.40" r="10.6" fill="none" stroke="#444" stroke-width="1.0"/>
<path d="M653.86,211.36 A8.9,8.9 0 0 0 648.54,206.04 M642.46,206.04 A8.9,8.9 0 0 0 637.14,211.36 M637.14,217.44 A8.9,8.9 0 0 0 642.46,222.76 M648.54,222.76 A8.9,8.9 0 0 0 653.86,217.44 M654.14,216.55 A8.9,8.9 0 0 0 654.14,212.25 M636.86,212.25 A8.9,8.9 0 0 0 636.86,216.55" fill="none" stroke="#111" stroke-width="2.6"/>
<circle cx="645.50" cy="214.40" r="3.9" fill="none" stroke="#111" stroke-width="1.2"/>
<circle cx="645.50" cy="214.40" r="1.5" fill="#111" stroke="none" stroke-width="1"/>
<line x1="459.50" y1="224.00" x2="459.50" y2="326.60" stroke="#333" stroke-width="1" />
<line x1="510.50" y1="223.60" x2="510.50" y2="326.60" stroke="#333" stroke-width="1" />
<line x1="605.50" y1="222.20" x2="605.50" y2="326.60" stroke="#333" stroke-width="1" />
<line x1="645.50" y1="214.40" x2="645.50" y2="326.60" stroke="#333" stroke-width="1" />
<rect x="247.50" y="479.4" width="5.00" height="7" fill="#fff" stroke="#444" stroke-width="0.9"/>
<rect x="247.50" y="732.6" width="5.00" height="6.8" fill="#fff" stroke="#444" stroke-width="0.9"/>
<rect x="257.50" y="479.4" width="5.00" height="7" fill="#fff" stroke="#444" stroke-width="0.9"/>
<rect x="257.50" y="732.6" width="5.00" height="6.8" fill="#fff" stroke="#444" stroke-width="0.9"/>
<rect x="268.50" y="479.4" width="5.00" height="7" fill="#fff" stroke="#444" stroke-width="0.9"/>
<rect x="268.50" y="732.6" width="5.00" height="6.8" fill="#fff" stroke="#444" stroke-width="0.9"/>
<rect x="279.50" y="479.4" width="4.00" height="7" fill="#fff" stroke="#444" stroke-width="0.9"/>
<rect x="279.50" y="732.6" width="4.00" height="6.8" fill="#fff" stroke="#444" stroke-width="0.9"/>
<rect x="289.50" y="479.4" width="5.00" height="7" fill="#fff" stroke="#444" stroke-width="0.9"/>
<rect x="289.50" y="732.6" width="5.00" height="6.8" fill="#fff" stroke="#444" stroke-width="0.9"/>
<rect x="300.50" y="479.4" width="5.00" height="7" fill="#fff" stroke="#444" stroke-width="0.9"/>
<rect x="300.50" y="732.6" width="5.00" height="6.8" fill="#fff" stroke="#444" stroke-width="0.9"/>
<rect x="310.50" y="479.4" width="5.00" height="7" fill="#fff" stroke="#444" stroke-width="0.9"/>
<rect x="310.50" y="732.6" width="5.00" height="6.8" fill="#fff" stroke="#444" stroke-width="0.9"/>
<rect x="321.50" y="479.4" width="5.00" height="7" fill="#fff" stroke="#444" stroke-width="0.9"/>
<rect x="321.50" y="732.6" width="5.00" height="6.8" fill="#fff" stroke="#444" stroke-width="0.9"/>
<rect x="331.50" y="479.4" width="5.00" height="7" fill="#fff" stroke="#444" stroke-width="0.9"/>
<rect x="331.50" y="732.6" width="5.00" height="6.8" fill="#fff" stroke="#444" stroke-width="0.9"/>
<rect x="342.50" y="479.4" width="5.00" height="7" fill="#fff" stroke="#444" stroke-width="0.9"/>
<rect x="342.50" y="732.6" width="5.00" height="6.8" fill="#fff" stroke="#444" stroke-width="0.9"/>
<rect x="353.50" y="479.4" width="5.00" height="7" fill="#fff" stroke="#444" stroke-width="0.9"/>
<rect x="353.50" y="732.6" width="5.00" height="6.8" fill="#fff" stroke="#444" stroke-width="0.9"/>
<rect x="363.50" y="479.4" width="5.00" height="7" fill="#fff" stroke="#444" stroke-width="0.9"/>
<rect x="363.50" y="732.6" width="5.00" height="6.8" fill="#fff" stroke="#444" stroke-width="0.9"/>
<rect x="374.50" y="479.4" width="5.00" height="7" fill="#fff" stroke="#444" stroke-width="0.9"/>
<rect x="374.50" y="732.6" width="5.00" height="6.8" fill="#fff" stroke="#444" stroke-width="0.9"/>
<rect x="384.50" y="479.4" width="5.00" height="7" fill="#fff" stroke="#444" stroke-width="0.9"/>
<rect x="384.50" y="732.6" width="5.00" height="6.8" fill="#fff" stroke="#444" stroke-width="0.9"/>
<rect x="395.50" y="479.4" width="5.00" height="7" fill="#fff" stroke="#444" stroke-width="0.9"/>
<rect x="395.50" y="732.6" width="5.00" height="6.8" fill="#fff" stroke="#444" stroke-width="0.9"/>
<rect x="406.50" y="479.4" width="4.00" height="7" fill="#fff" stroke="#444" stroke-width="0.9"/>
<rect x="406.50" y="732.6" width="4.00" height="6.8" fill="#fff" stroke="#444" stroke-width="0.9"/>
<rect x="416.50" y="479.4" width="5.00" height="7" fill="#fff" stroke="#444" stroke-width="0.9"/>
<rect x="416.50" y="732.6" width="5.00" height="6.8" fill="#fff" stroke="#444" stroke-width="0.9"/>
<line x1="247.50" y1="486.50" x2="247.50" y2="732.60" stroke="#c4c4c4" stroke-width="1" />
<line x1="252.50" y1="486.50" x2="252.50" y2="732.60" stroke="#8a8a8a" stroke-width="1" />
<line x1="257.50" y1="486.50" x2="257.50" y2="732.60" stroke="#c4c4c4" stroke-width="1" />
<line x1="262.50" y1="486.50" x2="262.50" y2="732.60" stroke="#8a8a8a" stroke-width="1" />
<line x1="268.50" y1="486.50" x2="268.50" y2="732.60" stroke="#c4c4c4" stroke-width="1" />
<line x1="273.50" y1="486.50" x2="273.50" y2="732.60" stroke="#8a8a8a" stroke-width="1" />
<line x1="279.50" y1="486.50" x2="279.50" y2="732.60" stroke="#c4c4c4" stroke-width="1" />
<line x1="283.50" y1="486.50" x2="283.50" y2="732.60" stroke="#8a8a8a" stroke-width="1" />
<line x1="289.50" y1="486.50" x2="289.50" y2="732.60" stroke="#c4c4c4" stroke-width="1" />
<line x1="294.50" y1="486.50" x2="294.50" y2="732.60" stroke="#8a8a8a" stroke-width="1" />
<line x1="300.50" y1="486.50" x2="300.50" y2="732.60" stroke="#c4c4c4" stroke-width="1" />
<line x1="305.50" y1="486.50" x2="305.50" y2="732.60" stroke="#8a8a8a" stroke-width="1" />
<line x1="310.50" y1="486.50" x2="310.50" y2="732.60" stroke="#c4c4c4" stroke-width="1" />
<line x1="315.50" y1="486.50" x2="315.50" y2="732.60" stroke="#8a8a8a" stroke-width="1" />
<line x1="321.50" y1="486.50" x2="321.50" y2="732.60" stroke="#c4c4c4" stroke-width="1" />
<line x1="326.50" y1="486.50" x2="326.50" y2="732.60" stroke="#8a8a8a" stroke-width="1" />
<line x1="331.50" y1="486.50" x2="331.50" y2="732.60" stroke="#c4c4c4" stroke-width="1" />
<line x1="336.50" y1="486.50" x2="336.50" y2="732.60" stroke="#8a8a8a" stroke-width="1" />
<line x1="342.50" y1="486.50" x2="342.50" y2="732.60" stroke="#c4c4c4" stroke-width="1" />
<line x1="347.50" y1="486.50" x2="347.50" y2="732.60" stroke="#8a8a8a" stroke-width="1" />
<line x1="353.50" y1="486.50" x2="353.50" y2="732.60" stroke="#c4c4c4" stroke-width="1" />
<line x1="358.50" y1="486.50" x2="358.50" y2="732.60" stroke="#8a8a8a" stroke-width="1" />
<line x1="363.50" y1="486.50" x2="363.50" y2="732.60" stroke="#c4c4c4" stroke-width="1" />
<line x1="368.50" y1="486.50" x2="368.50" y2="732.60" stroke="#8a8a8a" stroke-width="1" />
<line x1="374.50" y1="486.50" x2="374.50" y2="732.60" stroke="#c4c4c4" stroke-width="1" />
<line x1="379.50" y1="486.50" x2="379.50" y2="732.60" stroke="#8a8a8a" stroke-width="1" />
<line x1="384.50" y1="486.50" x2="384.50" y2="732.60" stroke="#c4c4c4" stroke-width="1" />
<line x1="389.50" y1="486.50" x2="389.50" y2="732.60" stroke="#8a8a8a" stroke-width="1" />
<line x1="395.50" y1="486.50" x2="395.50" y2="732.60" stroke="#c4c4c4" stroke-width="1" />
<line x1="400.50" y1="486.50" x2="400.50" y2="732.60" stroke="#8a8a8a" stroke-width="1" />
<line x1="406.50" y1="486.50" x2="406.50" y2="732.60" stroke="#c4c4c4" stroke-width="1" />
<line x1="410.50" y1="486.50" x2="410.50" y2="732.60" stroke="#8a8a8a" stroke-width="1" />
<line x1="416.50" y1="486.50" x2="416.50" y2="732.60" stroke="#c4c4c4" stroke-width="1" />
<line x1="421.50" y1="486.50" x2="421.50" y2="732.60" stroke="#8a8a8a" stroke-width="1" />
<line x1="247.50" y1="503.00" x2="247.50" y2="531.00" stroke="#1a1a1a" stroke-width="1.1" />
<line x1="247.50" y1="541.00" x2="247.50" y2="566.50" stroke="#1a1a1a" stroke-width="1.1" />
<line x1="247.50" y1="577.60" x2="247.50" y2="640.00" stroke="#1a1a1a" stroke-width="1.1" />
<line x1="247.50" y1="651.00" x2="247.50" y2="678.50" stroke="#1a1a1a" stroke-width="1.1" />
<line x1="247.50" y1="689.60" x2="247.50" y2="714.00" stroke="#1a1a1a" stroke-width="1.1" />
<line x1="252.50" y1="503.00" x2="252.50" y2="531.00" stroke="#1a1a1a" stroke-width="1.1" />
<line x1="252.50" y1="541.00" x2="252.50" y2="566.50" stroke="#1a1a1a" stroke-width="1.1" />
<line x1="252.50" y1="577.60" x2="252.50" y2="640.00" stroke="#1a1a1a" stroke-width="1.1" />
<line x1="252.50" y1="651.00" x2="252.50" y2="678.50" stroke="#1a1a1a" stroke-width="1.1" />
<line x1="252.50" y1="689.60" x2="252.50" y2="714.00" stroke="#1a1a1a" stroke-width="1.1" />
<line x1="257.50" y1="503.00" x2="257.50" y2="531.00" stroke="#1a1a1a" stroke-width="1.1" />
<line x1="257.50" y1="541.00" x2="257.50" y2="566.50" stroke="#1a1a1a" stroke-width="1.1" />
<line x1="257.50" y1="577.60" x2="257.50" y2="640.00" stroke="#1a1a1a" stroke-width="1.1" />
<line x1="257.50" y1="651.00" x2="257.50" y2="678.50" stroke="#1a1a1a" stroke-width="1.1" />
<line x1="257.50" y1="689.60" x2="257.50" y2="714.00" stroke="#1a1a1a" stroke-width="1.1" />
<line x1="262.50" y1="503.00" x2="262.50" y2="531.00" stroke="#1a1a1a" stroke-width="1.1" />
<line x1="262.50" y1="541.00" x2="262.50" y2="566.50" stroke="#1a1a1a" stroke-width="1.1" />
<line x1="262.50" y1="577.60" x2="262.50" y2="640.00" stroke="#1a1a1a" stroke-width="1.1" />
<line x1="262.50" y1="651.00" x2="262.50" y2="678.50" stroke="#1a1a1a" stroke-width="1.1" />
<line x1="262.50" y1="689.60" x2="262.50" y2="714.00" stroke="#1a1a1a" stroke-width="1.1" />
<line x1="268.50" y1="503.00" x2="268.50" y2="531.00" stroke="#1a1a1a" stroke-width="1.1" />
<line x1="268.50" y1="541.00" x2="268.50" y2="566.50" stroke="#1a1a1a" stroke-width="1.1" />
<line x1="268.50" y1="577.60" x2="268.50" y2="640.00" stroke="#1a1a1a" stroke-width="1.1" />
<line x1="268.50" y1="651.00" x2="268.50" y2="678.50" stroke="#1a1a1a" stroke-width="1.1" />
<line x1="268.50" y1="689.60" x2="268.50" y2="714.00" stroke="#1a1a1a" stroke-width="1.1" />
<line x1="273.50" y1="503.00" x2="273.50" y2="531.00" stroke="#1a1a1a" stroke-width="1.1" />
<line x1="273.50" y1="541.00" x2="273.50" y2="566.50" stroke="#1a1a1a" stroke-width="1.1" />
<line x1="273.50" y1="577.60" x2="273.50" y2="640.00" stroke="#1a1a1a" stroke-width="1.1" />
<line x1="273.50" y1="651.00" x2="273.50" y2="678.50" stroke="#1a1a1a" stroke-width="1.1" />
<line x1="273.50" y1="689.60" x2="273.50" y2="714.00" stroke="#1a1a1a" stroke-width="1.1" />
<line x1="279.50" y1="503.00" x2="279.50" y2="531.00" stroke="#1a1a1a" stroke-width="1.1" />
<line x1="279.50" y1="541.00" x2="279.50" y2="566.50" stroke="#1a1a1a" stroke-width="1.1" />
<line x1="279.50" y1="577.60" x2="279.50" y2="640.00" stroke="#1a1a1a" stroke-width="1.1" />
<line x1="279.50" y1="651.00" x2="279.50" y2="678.50" stroke="#1a1a1a" stroke-width="1.1" />
<line x1="279.50" y1="689.60" x2="279.50" y2="714.00" stroke="#1a1a1a" stroke-width="1.1" />
<line x1="283.50" y1="503.00" x2="283.50" y2="531.00" stroke="#1a1a1a" stroke-width="1.1" />
<line x1="283.50" y1="541.00" x2="283.50" y2="566.50" stroke="#1a1a1a" stroke-width="1.1" />
<line x1="283.50" y1="577.60" x2="283.50" y2="640.00" stroke="#1a1a1a" stroke-width="1.1" />
<line x1="283.50" y1="651.00" x2="283.50" y2="678.50" stroke="#1a1a1a" stroke-width="1.1" />
<line x1="283.50" y1="689.60" x2="283.50" y2="714.00" stroke="#1a1a1a" stroke-width="1.1" />
<line x1="289.50" y1="503.00" x2="289.50" y2="531.00" stroke="#1a1a1a" stroke-width="1.1" />
<line x1="289.50" y1="541.00" x2="289.50" y2="566.50" stroke="#1a1a1a" stroke-width="1.1" />
<line x1="289.50" y1="577.60" x2="289.50" y2="640.00" stroke="#1a1a1a" stroke-width="1.1" />
<line x1="289.50" y1="651.00" x2="289.50" y2="678.50" stroke="#1a1a1a" stroke-width="1.1" />
<line x1="289.50" y1="689.60" x2="289.50" y2="714.00" stroke="#1a1a1a" stroke-width="1.1" />
<line x1="294.50" y1="503.00" x2="294.50" y2="531.00" stroke="#1a1a1a" stroke-width="1.1" />
<line x1="294.50" y1="541.00" x2="294.50" y2="566.50" stroke="#1a1a1a" stroke-width="1.1" />
<line x1="294.50" y1="577.60" x2="294.50" y2="640.00" stroke="#1a1a1a" stroke-width="1.1" />
<line x1="294.50" y1="651.00" x2="294.50" y2="678.50" stroke="#1a1a1a" stroke-width="1.1" />
<line x1="294.50" y1="689.60" x2="294.50" y2="714.00" stroke="#1a1a1a" stroke-width="1.1" />
<line x1="300.50" y1="503.00" x2="300.50" y2="531.00" stroke="#1a1a1a" stroke-width="1.1" />
<line x1="300.50" y1="541.00" x2="300.50" y2="566.50" stroke="#1a1a1a" stroke-width="1.1" />
<line x1="300.50" y1="577.60" x2="300.50" y2="640.00" stroke="#1a1a1a" stroke-width="1.1" />
<line x1="300.50" y1="651.00" x2="300.50" y2="678.50" stroke="#1a1a1a" stroke-width="1.1" />
<line x1="300.50" y1="689.60" x2="300.50" y2="714.00" stroke="#1a1a1a" stroke-width="1.1" />
<line x1="305.50" y1="503.00" x2="305.50" y2="531.00" stroke="#1a1a1a" stroke-width="1.1" />
<line x1="305.50" y1="541.00" x2="305.50" y2="566.50" stroke="#1a1a1a" stroke-width="1.1" />
<line x1="305.50" y1="577.60" x2="305.50" y2="640.00" stroke="#1a1a1a" stroke-width="1.1" />
<line x1="305.50" y1="651.00" x2="305.50" y2="678.50" stroke="#1a1a1a" stroke-width="1.1" />
<line x1="305.50" y1="689.60" x2="305.50" y2="714.00" stroke="#1a1a1a" stroke-width="1.1" />
<line x1="310.50" y1="503.00" x2="310.50" y2="531.00" stroke="#1a1a1a" stroke-width="1.1" />
<line x1="310.50" y1="541.00" x2="310.50" y2="566.50" stroke="#1a1a1a" stroke-width="1.1" />
<line x1="310.50" y1="577.60" x2="310.50" y2="640.00" stroke="#1a1a1a" stroke-width="1.1" />
<line x1="310.50" y1="651.00" x2="310.50" y2="678.50" stroke="#1a1a1a" stroke-width="1.1" />
<line x1="310.50" y1="689.60" x2="310.50" y2="714.00" stroke="#1a1a1a" stroke-width="1.1" />
<line x1="315.50" y1="503.00" x2="315.50" y2="531.00" stroke="#1a1a1a" stroke-width="1.1" />
<line x1="315.50" y1="541.00" x2="315.50" y2="566.50" stroke="#1a1a1a" stroke-width="1.1" />
<line x1="315.50" y1="577.60" x2="315.50" y2="640.00" stroke="#1a1a1a" stroke-width="1.1" />
<line x1="315.50" y1="651.00" x2="315.50" y2="678.50" stroke="#1a1a1a" stroke-width="1.1" />
<line x1="315.50" y1="689.60" x2="315.50" y2="714.00" stroke="#1a1a1a" stroke-width="1.1" />
<line x1="321.50" y1="503.00" x2="321.50" y2="531.00" stroke="#1a1a1a" stroke-width="1.1" />
<line x1="321.50" y1="541.00" x2="321.50" y2="566.50" stroke="#1a1a1a" stroke-width="1.1" />
<line x1="321.50" y1="577.60" x2="321.50" y2="640.00" stroke="#1a1a1a" stroke-width="1.1" />
<line x1="321.50" y1="651.00" x2="321.50" y2="678.50" stroke="#1a1a1a" stroke-width="1.1" />
<line x1="321.50" y1="689.60" x2="321.50" y2="714.00" stroke="#1a1a1a" stroke-width="1.1" />
<line x1="326.50" y1="503.00" x2="326.50" y2="531.00" stroke="#1a1a1a" stroke-width="1.1" />
<line x1="326.50" y1="541.00" x2="326.50" y2="566.50" stroke="#1a1a1a" stroke-width="1.1" />
<line x1="326.50" y1="577.60" x2="326.50" y2="640.00" stroke="#1a1a1a" stroke-width="1.1" />
<line x1="326.50" y1="651.00" x2="326.50" y2="678.50" stroke="#1a1a1a" stroke-width="1.1" />
<line x1="326.50" y1="689.60" x2="326.50" y2="714.00" stroke="#1a1a1a" stroke-width="1.1" />
<line x1="331.50" y1="503.00" x2="331.50" y2="531.00" stroke="#1a1a1a" stroke-width="1.1" />
<line x1="331.50" y1="541.00" x2="331.50" y2="566.50" stroke="#1a1a1a" stroke-width="1.1" />
<line x1="331.50" y1="577.60" x2="331.50" y2="640.00" stroke="#1a1a1a" stroke-width="1.1" />
<line x1="331.50" y1="651.00" x2="331.50" y2="678.50" stroke="#1a1a1a" stroke-width="1.1" />
<line x1="331.50" y1="689.60" x2="331.50" y2="714.00" stroke="#1a1a1a" stroke-width="1.1" />
<line x1="336.50" y1="503.00" x2="336.50" y2="531.00" stroke="#1a1a1a" stroke-width="1.1" />
<line x1="336.50" y1="541.00" x2="336.50" y2="566.50" stroke="#1a1a1a" stroke-width="1.1" />
<line x1="336.50" y1="577.60" x2="336.50" y2="640.00" stroke="#1a1a1a" stroke-width="1.1" />
<line x1="336.50" y1="651.00" x2="336.50" y2="678.50" stroke="#1a1a1a" stroke-width="1.1" />
<line x1="336.50" y1="689.60" x2="336.50" y2="714.00" stroke="#1a1a1a" stroke-width="1.1" />
<line x1="342.50" y1="503.00" x2="342.50" y2="531.00" stroke="#1a1a1a" stroke-width="1.1" />
<line x1="342.50" y1="541.00" x2="342.50" y2="566.50" stroke="#1a1a1a" stroke-width="1.1" />
<line x1="342.50" y1="577.60" x2="342.50" y2="640.00" stroke="#1a1a1a" stroke-width="1.1" />
<line x1="342.50" y1="651.00" x2="342.50" y2="678.50" stroke="#1a1a1a" stroke-width="1.1" />
<line x1="342.50" y1="689.60" x2="342.50" y2="714.00" stroke="#1a1a1a" stroke-width="1.1" />
<line x1="347.50" y1="503.00" x2="347.50" y2="531.00" stroke="#1a1a1a" stroke-width="1.1" />
<line x1="347.50" y1="541.00" x2="347.50" y2="566.50" stroke="#1a1a1a" stroke-width="1.1" />
<line x1="347.50" y1="577.60" x2="347.50" y2="640.00" stroke="#1a1a1a" stroke-width="1.1" />
<line x1="347.50" y1="651.00" x2="347.50" y2="678.50" stroke="#1a1a1a" stroke-width="1.1" />
<line x1="347.50" y1="689.60" x2="347.50" y2="714.00" stroke="#1a1a1a" stroke-width="1.1" />
<line x1="353.50" y1="503.00" x2="353.50" y2="531.00" stroke="#1a1a1a" stroke-width="1.1" />
<line x1="353.50" y1="541.00" x2="353.50" y2="566.50" stroke="#1a1a1a" stroke-width="1.1" />
<line x1="353.50" y1="577.60" x2="353.50" y2="640.00" stroke="#1a1a1a" stroke-width="1.1" />
<line x1="353.50" y1="651.00" x2="353.50" y2="678.50" stroke="#1a1a1a" stroke-width="1.1" />
<line x1="353.50" y1="689.60" x2="353.50" y2="714.00" stroke="#1a1a1a" stroke-width="1.1" />
<line x1="358.50" y1="503.00" x2="358.50" y2="531.00" stroke="#1a1a1a" stroke-width="1.1" />
<line x1="358.50" y1="541.00" x2="358.50" y2="566.50" stroke="#1a1a1a" stroke-width="1.1" />
<line x1="358.50" y1="577.60" x2="358.50" y2="640.00" stroke="#1a1a1a" stroke-width="1.1" />
<line x1="358.50" y1="651.00" x2="358.50" y2="678.50" stroke="#1a1a1a" stroke-width="1.1" />
<line x1="358.50" y1="689.60" x2="358.50" y2="714.00" stroke="#1a1a1a" stroke-width="1.1" />
<line x1="363.50" y1="503.00" x2="363.50" y2="531.00" stroke="#1a1a1a" stroke-width="1.1" />
<line x1="363.50" y1="541.00" x2="363.50" y2="566.50" stroke="#1a1a1a" stroke-width="1.1" />
<line x1="363.50" y1="577.60" x2="363.50" y2="640.00" stroke="#1a1a1a" stroke-width="1.1" />
<line x1="363.50" y1="651.00" x2="363.50" y2="678.50" stroke="#1a1a1a" stroke-width="1.1" />
<line x1="363.50" y1="689.60" x2="363.50" y2="714.00" stroke="#1a1a1a" stroke-width="1.1" />
<line x1="368.50" y1="503.00" x2="368.50" y2="531.00" stroke="#1a1a1a" stroke-width="1.1" />
<line x1="368.50" y1="541.00" x2="368.50" y2="566.50" stroke="#1a1a1a" stroke-width="1.1" />
<line x1="368.50" y1="577.60" x2="368.50" y2="640.00" stroke="#1a1a1a" stroke-width="1.1" />
<line x1="368.50" y1="651.00" x2="368.50" y2="678.50" stroke="#1a1a1a" stroke-width="1.1" />
<line x1="368.50" y1="689.60" x2="368.50" y2="714.00" stroke="#1a1a1a" stroke-width="1.1" />
<line x1="374.50" y1="503.00" x2="374.50" y2="531.00" stroke="#1a1a1a" stroke-width="1.1" />
<line x1="374.50" y1="541.00" x2="374.50" y2="566.50" stroke="#1a1a1a" stroke-width="1.1" />
<line x1="374.50" y1="577.60" x2="374.50" y2="640.00" stroke="#1a1a1a" stroke-width="1.1" />
<line x1="374.50" y1="651.00" x2="374.50" y2="678.50" stroke="#1a1a1a" stroke-width="1.1" />
<line x1="374.50" y1="689.60" x2="374.50" y2="714.00" stroke="#1a1a1a" stroke-width="1.1" />
<line x1="379.50" y1="503.00" x2="379.50" y2="531.00" stroke="#1a1a1a" stroke-width="1.1" />
<line x1="379.50" y1="541.00" x2="379.50" y2="566.50" stroke="#1a1a1a" stroke-width="1.1" />
<line x1="379.50" y1="577.60" x2="379.50" y2="640.00" stroke="#1a1a1a" stroke-width="1.1" />
<line x1="379.50" y1="651.00" x2="379.50" y2="678.50" stroke="#1a1a1a" stroke-width="1.1" />
<line x1="379.50" y1="689.60" x2="379.50" y2="714.00" stroke="#1a1a1a" stroke-width="1.1" />
<line x1="384.50" y1="503.00" x2="384.50" y2="531.00" stroke="#1a1a1a" stroke-width="1.1" />
<line x1="384.50" y1="541.00" x2="384.50" y2="566.50" stroke="#1a1a1a" stroke-width="1.1" />
<line x1="384.50" y1="577.60" x2="384.50" y2="640.00" stroke="#1a1a1a" stroke-width="1.1" />
<line x1="384.50" y1="651.00" x2="384.50" y2="678.50" stroke="#1a1a1a" stroke-width="1.1" />
<line x1="384.50" y1="689.60" x2="384.50" y2="714.00" stroke="#1a1a1a" stroke-width="1.1" />
<line x1="389.50" y1="503.00" x2="389.50" y2="531.00" stroke="#1a1a1a" stroke-width="1.1" />
<line x1="389.50" y1="541.00" x2="389.50" y2="566.50" stroke="#1a1a1a" stroke-width="1.1" />
<line x1="389.50" y1="577.60" x2="389.50" y2="640.00" stroke="#1a1a1a" stroke-width="1.1" />
<line x1="389.50" y1="651.00" x2="389.50" y2="678.50" stroke="#1a1a1a" stroke-width="1.1" />
<line x1="389.50" y1="689.60" x2="389.50" y2="714.00" stroke="#1a1a1a" stroke-width="1.1" />
<line x1="395.50" y1="503.00" x2="395.50" y2="531.00" stroke="#1a1a1a" stroke-width="1.1" />
<line x1="395.50" y1="541.00" x2="395.50" y2="566.50" stroke="#1a1a1a" stroke-width="1.1" />
<line x1="395.50" y1="577.60" x2="395.50" y2="640.00" stroke="#1a1a1a" stroke-width="1.1" />
<line x1="395.50" y1="651.00" x2="395.50" y2="678.50" stroke="#1a1a1a" stroke-width="1.1" />
<line x1="395.50" y1="689.60" x2="395.50" y2="714.00" stroke="#1a1a1a" stroke-width="1.1" />
<line x1="400.50" y1="503.00" x2="400.50" y2="531.00" stroke="#1a1a1a" stroke-width="1.1" />
<line x1="400.50" y1="541.00" x2="400.50" y2="566.50" stroke="#1a1a1a" stroke-width="1.1" />
<line x1="400.50" y1="577.60" x2="400.50" y2="640.00" stroke="#1a1a1a" stroke-width="1.1" />
<line x1="400.50" y1="651.00" x2="400.50" y2="678.50" stroke="#1a1a1a" stroke-width="1.1" />
<line x1="400.50" y1="689.60" x2="400.50" y2="714.00" stroke="#1a1a1a" stroke-width="1.1" />
<line x1="406.50" y1="503.00" x2="406.50" y2="531.00" stroke="#1a1a1a" stroke-width="1.1" />
<line x1="406.50" y1="541.00" x2="406.50" y2="566.50" stroke="#1a1a1a" stroke-width="1.1" />
<line x1="406.50" y1="577.60" x2="406.50" y2="640.00" stroke="#1a1a1a" stroke-width="1.1" />
<line x1="406.50" y1="651.00" x2="406.50" y2="678.50" stroke="#1a1a1a" stroke-width="1.1" />
<line x1="406.50" y1="689.60" x2="406.50" y2="714.00" stroke="#1a1a1a" stroke-width="1.1" />
<line x1="410.50" y1="503.00" x2="410.50" y2="531.00" stroke="#1a1a1a" stroke-width="1.1" />
<line x1="410.50" y1="541.00" x2="410.50" y2="566.50" stroke="#1a1a1a" stroke-width="1.1" />
<line x1="410.50" y1="577.60" x2="410.50" y2="640.00" stroke="#1a1a1a" stroke-width="1.1" />
<line x1="410.50" y1="651.00" x2="410.50" y2="678.50" stroke="#1a1a1a" stroke-width="1.1" />
<line x1="410.50" y1="689.60" x2="410.50" y2="714.00" stroke="#1a1a1a" stroke-width="1.1" />
<line x1="416.50" y1="503.00" x2="416.50" y2="531.00" stroke="#1a1a1a" stroke-width="1.1" />
<line x1="416.50" y1="541.00" x2="416.50" y2="566.50" stroke="#1a1a1a" stroke-width="1.1" />
<line x1="416.50" y1="577.60" x2="416.50" y2="640.00" stroke="#1a1a1a" stroke-width="1.1" />
<line x1="416.50" y1="651.00" x2="416.50" y2="678.50" stroke="#1a1a1a" stroke-width="1.1" />
<line x1="416.50" y1="689.60" x2="416.50" y2="714.00" stroke="#1a1a1a" stroke-width="1.1" />
<line x1="421.50" y1="503.00" x2="421.50" y2="531.00" stroke="#1a1a1a" stroke-width="1.1" />
<line x1="421.50" y1="541.00" x2="421.50" y2="566.50" stroke="#1a1a1a" stroke-width="1.1" />
<line x1="421.50" y1="577.60" x2="421.50" y2="640.00" stroke="#1a1a1a" stroke-width="1.1" />
<line x1="421.50" y1="651.00" x2="421.50" y2="678.50" stroke="#1a1a1a" stroke-width="1.1" />
<line x1="421.50" y1="689.60" x2="421.50" y2="714.00" stroke="#1a1a1a" stroke-width="1.1" />
<rect x="180.2" y="470.4" width="303.8" height="278.2" fill="none" stroke="#1a1a1a" stroke-width="1.5"/>
<line x1="180.20" y1="486.00" x2="484.00" y2="486.00" stroke="#555" stroke-width="1.4" />
<line x1="180.20" y1="733.00" x2="484.00" y2="733.00" stroke="#555" stroke-width="1.4" />
<rect x="196.80" y="486.40" width="255.00" height="244.90" rx="7" ry="7" fill="none" stroke="#444" stroke-width="1.2" />
<rect x="200.40" y="493.40" width="12.20" height="28.80" rx="6.1" ry="6.1" fill="none" stroke="#333" stroke-width="1.1" />
<rect x="436.70" y="493.40" width="12.20" height="28.80" rx="6.1" ry="6.1" fill="none" stroke="#333" stroke-width="1.1" />
<rect x="200.50" y="695.90" width="12.20" height="28.80" rx="6.1" ry="6.1" fill="none" stroke="#333" stroke-width="1.1" />
<rect x="437.30" y="695.90" width="12.20" height="28.80" rx="6.1" ry="6.1" fill="none" stroke="#333" stroke-width="1.1" />
<path d="M219.1,491.8 L424.8,491.8" fill="none" stroke="#444" stroke-width="1.4" stroke-dasharray="7.5 8.4" stroke-dashoffset="4.1"/>
<path d="M219.1,727.7 L424.8,727.7" fill="none" stroke="#444" stroke-width="1.4" stroke-dasharray="7.5 8.4" stroke-dashoffset="4.1"/>
<path d="M219.1,491.8 L219.1,727.7" fill="none" stroke="#333" stroke-width="1.4" stroke-dasharray="7.3 7.35" stroke-dashoffset="3.85"/>
<path d="M424.8,491.8 L424.8,727.7" fill="none" stroke="#555" stroke-width="1.4" stroke-dasharray="7.3 7.35" stroke-dashoffset="3.85"/>
<path d="M219.1,550.6 L424.8,550.6" fill="none" stroke="#111" stroke-width="1.8" stroke-dasharray="7.5 8.4" stroke-dashoffset="4.1"/>
<path d="M219.1,609.7 L424.8,609.7" fill="none" stroke="#111" stroke-width="1.8" stroke-dasharray="7.5 8.4" stroke-dashoffset="4.1"/>
<path d="M219.1,668.8 L424.8,668.8" fill="none" stroke="#111" stroke-width="1.8" stroke-dasharray="7.5 8.4" stroke-dashoffset="4.1"/>
<path d="M205.4,529.9 L233.3,529.9 L242.2,538.4 L242.2,684.3 Q242.2,687.3 239.2,687.3 L205.4,687.3 Q202.4,687.3 202.4,684.3 L202.4,532.9 Q202.4,529.9 205.4,529.9Z" fill="none" stroke="#555" stroke-width="1"/>
<circle cx="442.30" cy="549.60" r="3.1" fill="none" stroke="#111" stroke-width="1.6"/>
<circle cx="442.30" cy="669.00" r="3.1" fill="none" stroke="#111" stroke-width="1.6"/>
<line x1="153.50" y1="522.50" x2="219.10" y2="522.50" stroke="#333" stroke-width="1" />
<circle cx="219.10" cy="522.50" r="2.0" fill="#111" stroke="none" stroke-width="1"/>
<line x1="153.50" y1="580.50" x2="219.10" y2="580.50" stroke="#333" stroke-width="1" />
<circle cx="219.10" cy="580.50" r="2.0" fill="#111" stroke="none" stroke-width="1"/>
<line x1="153.50" y1="638.50" x2="219.10" y2="638.50" stroke="#333" stroke-width="1" />
<circle cx="219.10" cy="638.50" r="2.0" fill="#111" stroke="none" stroke-width="1"/>
<line x1="153.50" y1="696.50" x2="219.10" y2="696.50" stroke="#333" stroke-width="1" />
<circle cx="219.10" cy="696.50" r="2.0" fill="#111" stroke="none" stroke-width="1"/>
<path d="M445.4,549.5 L494.5,549.5 L494.5,669.5 L445.4,669.5" fill="none" stroke="#333" stroke-width="1"/>
<circle cx="494.50" cy="611.50" r="2.0" fill="#111" stroke="none" stroke-width="1"/>
<line x1="494.50" y1="611.50" x2="526.80" y2="611.50" stroke="#333" stroke-width="1" />
<circle cx="237.50" cy="711.20" r="2.0" fill="#111" stroke="none" stroke-width="1"/>
<line x1="237.50" y1="711.20" x2="237.50" y2="763.60" stroke="#333" stroke-width="1" />
</svg>
<div class="t title" style="left:269.89px;top:19.05px;font-size:42.44px;transform:scale(1.0104,0.9238)">产品接口</div>
<div class="t head" style="left:130.7px;top:121.0px;font-size:14.28px;transform:scale(1.0074,0.9643)">正面 FRONT</div>
<div class="t head" style="left:501.59px;top:121.66px;font-size:14.32px;transform:scale(1.0086,0.86)">背面 BACK</div>
<div class="t head" style="left:283.1px;top:444.31px;font-size:14.77px;transform:scale(1.0,0.9067)">底面 BOTTOM</div>
<div class="t lab" style="left:67.69px;top:332.92px;font-size:13.82px;transform:scale(1.0087,1.18)">USB3.0</div>
<div class="t lab" style="left:32.8px;top:354.24px;font-size:14.98px;transform:scale(0.9984,0.9375)">(* 仅支持数据传输)</div>
<div class="t lab" style="left:169.3px;top:331.44px;font-size:14.47px;transform:scale(1.0,1.18)">USB3.0*2</div>
<div class="t lab" style="left:254.28px;top:332.8px;font-size:15.37px;transform:scale(1.025,0.8733)">开关</div>
<div class="t lab" style="left:439.29px;top:329.62px;font-size:14.21px;transform:scale(1.0147,1.14)">HDMI</div>
<div class="t lab" style="left:445.76px;top:348.47px;font-size:13.77px;transform:scale(1.0412,1.13)">DP</div>
<div class="t lab" style="left:483.09px;top:329.62px;font-size:14.14px;transform:scale(1.01,1.14)">USB2.0*2</div>
<div class="t lab" style="left:577.99px;top:329.62px;font-size:14.2px;transform:scale(1.0143,1.14)">2.5G*2</div>
<div class="t lab" style="left:640.93px;top:332.33px;font-size:15.83px;transform:scale(0.9828,0.8313)">电源</div>
<div class="t lab" style="left:101.0px;top:514.63px;font-size:13.78px;transform:scale(1.004,1.17)">NVME 4</div>
<div class="t lab" style="left:101.02px;top:571.14px;font-size:14.06px;transform:scale(0.9843,1.18)">NVME 3</div>
<div class="t lab" style="left:101.02px;top:629.34px;font-size:14.06px;transform:scale(0.9843,1.18)">NVME 2</div>
<div class="t lab" style="left:101.02px;top:687.14px;font-size:14.06px;transform:scale(0.9843,1.18)">NVME 1</div>
<div class="t lab" style="left:531.19px;top:606.0px;font-size:15.2px;transform:scale(1.0135,0.9333)">挂架安装孔</div>
<div class="t lab" style="left:242.98px;top:768.0px;font-size:15.31px;transform:scale(1.0155,0.9067)">可自行安装或更换内存和硬盘</div>
<div class="t lab" style="left:155.6px;top:795.94px;font-size:14.91px;transform:scale(0.9965,0.9375)">(* 必须先使用 NVME 1 槽位，其余 NVME 才能被识别。)</div>

</body></html>
